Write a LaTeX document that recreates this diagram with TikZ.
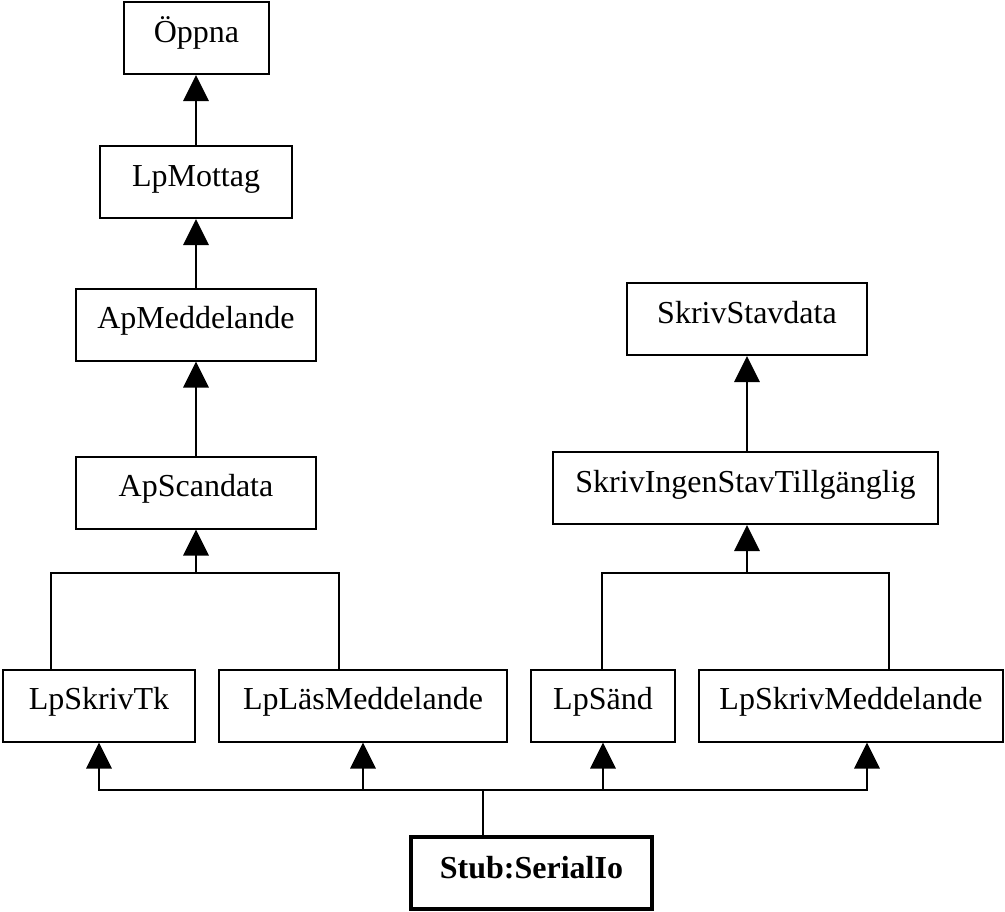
\documentclass[tikz,border=0pt]{standalone}
\usepackage{fontspec}
\setmainfont{Liberation Serif}
\usetikzlibrary{arrows.meta}
\begin{document}
\begin{tikzpicture}[x=0.75pt,y=-0.75pt,
  cls/.style={draw, line width=1.5pt, inner sep=0pt, text height=30pt, text depth=24pt,
              font=\fontsize{24}{28}\selectfont},
  stubcls/.style={cls, line width=3pt, text height=30.75pt, text depth=23.25pt,
              font=\fontsize{24}{28}\selectfont\bfseries},
  link/.style={line width=1.5pt, line join=miter},
  tri/.tip={Triangle[length=19.5pt,width=19pt]},
  gen/.style={link, -tri},
]
\useasboundingbox (0,0) rectangle (1005,911);

% class boxes
\node[cls, minimum width=108.75pt] (oppna)    at (196.5,38)  {Öppna};
\node[cls, minimum width=144pt]    (lpmottag) at (196,182)   {LpMottag};
\node[cls, minimum width=180pt]    (apmedd)   at (196,324.5) {ApMeddelande};
\node[cls, minimum width=180pt]    (apscan)   at (196,492.5) {ApScandata};
\node[cls, minimum width=180pt]    (skrstav)  at (747,319)   {SkrivStavdata};
\node[cls, minimum width=288.75pt] (skring)   at (745.5,488) {SkrivIngenStavTillgänglig};
\node[cls, minimum width=144pt]    (lpsktk)   at (99,705.5)  {LpSkrivTk};
\node[cls, minimum width=216pt]    (lplas)    at (363,705.5) {LpLäsMeddelande};
\node[cls, minimum width=108pt]    (lpsand)   at (603,705.5) {LpSänd};
\node[cls, minimum width=228pt]    (lpskm)    at (851,705.5) {LpSkrivMeddelande};
\node[stubcls, minimum width=180.75pt] (stub) at (531.5,873) {Stub:SerialIo};

% single-parent generalisations
\draw[gen] (lpmottag.north) -- (lpmottag.north |- oppna.south);
\draw[gen] (apmedd.north) -- (apmedd.north |- lpmottag.south);
\draw[gen] (apscan.north) -- (apscan.north |- apmedd.south);
\draw[gen] (skring.north -| skrstav.south) -- (skrstav.south);

% left fork into ApScandata
\coordinate (jla) at (51,573);
\coordinate (jlb) at (339,573);
\coordinate (jl)  at (196,573);
\draw[link] (lpsktk.north -| jla) -- (jla) -- (jlb) -- (lplas.north -| jlb);
\draw[gen] (jl) -- (apscan.south -| jl);

% right fork into SkrivIngenStavTillgänglig
\coordinate (jra) at (602,573);
\coordinate (jrb) at (889,573);
\coordinate (jr)  at (747,573);
\draw[link] (lpsand.north -| jra) -- (jra) -- (jrb) -- (lpskm.north -| jrb);
\draw[gen] (jr) -- (skring.south -| jr);

% bus from Stub:SerialIo
\coordinate (ba) at (99,790);
\coordinate (bb) at (363,790);
\coordinate (bc) at (603,790);
\coordinate (bd) at (867,790);
\coordinate (bs) at (483,790);
\draw[link, tri-tri] (lpsktk.south -| ba) -- (ba) -- (bd) -- (lpskm.south -| bd);
\draw[gen] (bb) -- (lplas.south -| bb);
\draw[gen] (bc) -- (lpsand.south -| bc);
\draw[link] (stub.north -| bs) -- (bs);
\end{tikzpicture}
\end{document}
